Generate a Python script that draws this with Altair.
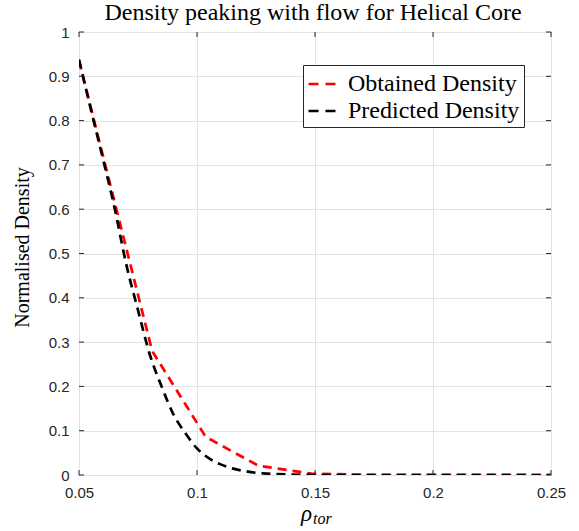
import altair as alt
import pandas as pd

# ---- data ----
series_names = ["Obtained Density", "Predicted Density"]

red_x = [0.05, 0.081, 0.1037, 0.126, 0.1485, 0.171, 0.25]
red_y = [0.935, 0.28, 0.086, 0.021, 0.003, 0.0005, 0.0]

black_x = [0.05, 0.055, 0.06, 0.065, 0.07, 0.075, 0.08, 0.085, 0.09, 0.095,
           0.10, 0.105, 0.11, 0.115, 0.12, 0.125, 0.13, 0.14, 0.15, 0.25]
black_y = [0.938, 0.826, 0.717, 0.605, 0.476, 0.372, 0.272, 0.200, 0.137, 0.095,
           0.060, 0.038, 0.024, 0.015, 0.009, 0.005, 0.003, 0.001, 0.0, 0.0]

x_ticks = [0.05, 0.1, 0.15, 0.2, 0.25]
y_ticks = [0, 0.1, 0.2, 0.3, 0.4, 0.5, 0.6, 0.7, 0.8, 0.9, 1]

title_text = "Density peaking with flow for Helical Core"
y_title = "Normalised Density"
x_title_main = "ρ"
x_title_sub = "tor"

W, H = 472, 443
AX = "#262626"

red_df = pd.DataFrame({"x": red_x, "y": red_y, "series": series_names[0]})
black_df = pd.DataFrame({"x": black_x, "y": black_y, "series": series_names[1]})
xt_df = pd.DataFrame({"x": x_ticks})
yt_df = pd.DataFrame({"y": y_ticks})

x_enc = alt.X(
    "x:Q",
    scale=alt.Scale(domain=[0.05, 0.25], nice=False, zero=False),
    axis=alt.Axis(values=x_ticks, format="~g", title=None, grid=True,
                  domain=False, ticks=False, tickSize=0,
                  labelFont="Liberation Sans", labelFontSize=15,
                  labelColor=AX, labelPadding=10, labelFlush=False),
)
y_enc = alt.Y(
    "y:Q",
    scale=alt.Scale(domain=[0, 1], nice=False),
    axis=alt.Axis(values=y_ticks, format="~g", title=y_title, grid=True,
                  domain=False, ticks=False, tickSize=0,
                  labelFont="Liberation Sans", labelFontSize=15,
                  labelColor=AX, labelPadding=10,
                  titleFont="Liberation Serif", titleFontSize=20,
                  titleFontWeight="normal", titleColor="black",
                  titleAngle=270, titleX=-51, titleY=215,
                  titleAlign="center", titleBaseline="alphabetic"),
)
color_enc = alt.Color(
    "series:N",
    scale=alt.Scale(domain=series_names, range=["#ff0000", "#000000"]),
    legend=alt.Legend(title=None, orient="none", legendX=224, legendY=33,
                      symbolType="stroke", symbolSize=729,
                      symbolStrokeWidth=2.5, symbolDash=[10, 7],
                      labelFont="Liberation Serif", labelFontSize=24,
                      labelColor="black", strokeColor=AX, fillColor="white",
                      padding=4, rowPadding=0, labelOffset=11, labelLimit=400),
)

red = alt.Chart(red_df).mark_line(
    strokeWidth=2.7, strokeDash=[9, 6], interpolate="linear", clip=True
).encode(x=x_enc, y=y_enc, color=color_enc)

black = alt.Chart(black_df).mark_line(
    strokeWidth=2.7, strokeDash=[9, 6], interpolate="monotone", clip=True
).encode(x=x_enc, y=y_enc, color=color_enc)

tick_len = 5
bottom_ticks = alt.Chart(xt_df).mark_rule(color=AX, strokeWidth=1).encode(
    x="x:Q", y=alt.value(H), y2=alt.value(H - tick_len))
top_ticks = alt.Chart(xt_df).mark_rule(color=AX, strokeWidth=1).encode(
    x="x:Q", y=alt.value(0), y2=alt.value(tick_len))
left_ticks = alt.Chart(yt_df).mark_rule(color=AX, strokeWidth=1).encode(
    y="y:Q", x=alt.value(0), x2=alt.value(tick_len))
right_ticks = alt.Chart(yt_df).mark_rule(color=AX, strokeWidth=1).encode(
    y="y:Q", x=alt.value(W), x2=alt.value(W - tick_len))

title_mark = alt.Chart(pd.DataFrame({"t": [title_text]})).mark_text(
    font="Liberation Serif", fontSize=24, color="black",
    align="center", baseline="alphabetic"
).encode(text="t:N", x=alt.value(234), y=alt.value(-12))

rho = alt.Chart(pd.DataFrame({"t": [x_title_main]})).mark_text(
    font="Liberation Serif", fontSize=23, fontStyle="italic", color="black",
    align="left", baseline="alphabetic"
).encode(text="t:N", x=alt.value(222), y=alt.value(489))
sub = alt.Chart(pd.DataFrame({"t": [x_title_sub]})).mark_text(
    font="Liberation Serif", fontSize=16, fontStyle="italic", color="black",
    align="left", baseline="alphabetic"
).encode(text="t:N", x=alt.value(234), y=alt.value(492))

chart = alt.layer(
    red, black, bottom_ticks, top_ticks, left_ticks, right_ticks,
    title_mark, rho, sub
).properties(
    width=W, height=H,
    autosize="none",
    padding={"left": 79, "top": 32, "right": 28, "bottom": 56},
    background="white",
).configure_view(
    stroke=AX, strokeWidth=1
).configure_axis(
    gridColor="#e3e3e3", gridWidth=1
)

chart.save("out.html", embed_options={"renderer": "svg", "actions": False})
